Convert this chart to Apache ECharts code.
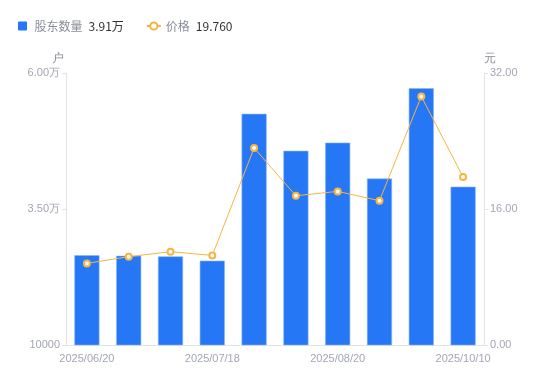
<!DOCTYPE html>
<html><head><meta charset="utf-8">
<script src="https://cdn.jsdelivr.net/npm/echarts@6/dist/echarts.min.js"></script>
<style>html,body{margin:0;padding:0;background:#fff}#c{width:550px;height:381px}</style>
</head><body><div id="c"></div>
<script>
const categories = ['2025/06/20','2025/06/30','2025/07/10','2025/07/18','2025/07/31','2025/08/10','2025/08/20','2025/08/29','2025/09/30','2025/10/10'];
const holders = [26500, 26400, 26300, 25500, 52500, 45700, 47200, 40600, 57200, 39100];
const prices = [9.60, 10.39, 10.98, 10.54, 23.18, 17.56, 18.07, 16.98, 29.25, 19.76];
const leftTicks = [10000, 35000, 60000];
const rightTicks = [0, 16, 32];

const lastHolder = holders[holders.length - 1];
const lastPrice = prices[prices.length - 1];
const axisColor = '#a3a6b4';
const chart = echarts.init(document.getElementById('c'));
chart.setOption({
  animation: false,
  legend: {
    left: 13, top: 15, itemGap: 22, itemWidth: 14, itemHeight: 9,
    textStyle: {
      fontSize: 12, fontFamily: 'Noto Sans CJK SC',
      rich: {
        n: { color: '#8a8d99', fontSize: 12, fontFamily: 'Noto Sans CJK SC' },
        v: { color: '#333', fontSize: 12, padding: [0, 0, 0, 6], fontFamily: 'Noto Sans CJK SC' }
      }
    },
    formatter: function (name) {
      if (name === '股东数量') return '{n|' + name + '}{v|' + (lastHolder / 10000).toFixed(2) + '万}';
      return '{n|' + name + '}{v|' + lastPrice.toFixed(3) + '}';
    },
    data: [
      { name: '股东数量', icon: 'path://M1,0H9Q10,0,10,1V9Q10,10,9,10H1Q0,10,0,9V1Q0,0,1,0Z', itemStyle: { borderWidth: 0 } },
      { name: '价格' }
    ]
  },
  grid: { left: 66, right: 66, top: 73, bottom: 36 },
  xAxis: {
    type: 'category', data: categories,
    axisLine: { lineStyle: { color: '#e3e3e3' } },
    axisTick: { show: false },
    axisLabel: { color: axisColor, fontSize: 11, interval: 2, margin: 8 }
  },
  yAxis: [
    {
      type: 'value', name: '户', min: leftTicks[0], max: leftTicks[2], interval: leftTicks[1] - leftTicks[0],
      nameTextStyle: { color: '#8a8d99', fontSize: 12, padding: [0, 16, 0, 0] }, nameGap: 8,
      axisLine: { show: true, lineStyle: { color: '#e3e3e3' } },
      axisTick: { show: true, length: 4, lineStyle: { color: '#e3e3e3' } },
      splitLine: { show: false },
      axisLabel: { color: axisColor, fontSize: 11, margin: 6,
        formatter: v => v === 10000 ? '10000' : (v / 10000).toFixed(2) + '万' }
    },
    {
      type: 'value', name: '元', min: rightTicks[0], max: rightTicks[2], interval: rightTicks[1] - rightTicks[0],
      nameTextStyle: { color: '#8a8d99', fontSize: 12, padding: [0, 0, 0, 12] }, nameGap: 8,
      axisLine: { show: true, lineStyle: { color: '#e3e3e3' } },
      axisTick: { show: true, length: 4, lineStyle: { color: '#e3e3e3' } },
      splitLine: { show: false },
      axisLabel: { color: axisColor, fontSize: 11, margin: 6, formatter: v => v.toFixed(2) }
    }
  ],
  series: [
    {
      name: '股东数量', type: 'bar', data: holders, barWidth: '60%', yAxisIndex: 0,
      itemStyle: { color: '#2677f5', borderColor: '#8ab6fa', borderWidth: 0.6 }
    },
    {
      name: '价格', type: 'line', data: prices, yAxisIndex: 1,
      symbol: 'emptyCircle', symbolSize: 6,
      lineStyle: { color: '#f7b443', width: 1 },
      itemStyle: { color: '#f7b443', borderWidth: 1.5 }
    }
  ]
});
</script>
</body></html>
